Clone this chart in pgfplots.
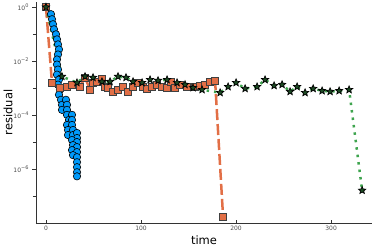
\documentclass[border=0pt]{standalone}
\usepackage{fontspec}
\setmainfont{DejaVu Sans}
\usepackage{pgfplots}
\pgfplotsset{compat=1.18}
\definecolor{jblue}{RGB}{0,154,250}
\definecolor{jorange}{RGB}{226,111,70}
\definecolor{jgreen}{RGB}{62,164,78}
\pgfdeclareplotmark{fstar}{%
  \pgfpathmoveto{\pgfpointpolar{90}{\pgfplotmarksize}}%
  \pgfpathlineto{\pgfpointpolar{126}{0.45\pgfplotmarksize}}%
  \pgfpathlineto{\pgfpointpolar{162}{\pgfplotmarksize}}%
  \pgfpathlineto{\pgfpointpolar{198}{0.45\pgfplotmarksize}}%
  \pgfpathlineto{\pgfpointpolar{234}{\pgfplotmarksize}}%
  \pgfpathlineto{\pgfpointpolar{270}{0.45\pgfplotmarksize}}%
  \pgfpathlineto{\pgfpointpolar{306}{\pgfplotmarksize}}%
  \pgfpathlineto{\pgfpointpolar{342}{0.45\pgfplotmarksize}}%
  \pgfpathlineto{\pgfpointpolar{18}{\pgfplotmarksize}}%
  \pgfpathlineto{\pgfpointpolar{54}{0.45\pgfplotmarksize}}%
  \pgfpathclose
  \pgfusepathqfillstroke
}
\begin{document}
\begin{tikzpicture}
\useasboundingbox (-36pt,-26pt) rectangle (338pt,223pt);
\begin{axis}[
  at={(0pt,0pt)}, anchor=south west,
  scale only axis, width=336pt, height=221pt,
  xmin=-10.5, xmax=343,
  ymode=log, ymin=1e-8, ymax=1.55,
  axis x line*=bottom, axis y line*=left,
  axis line style={black!80, line width=0.6pt},
  xtick={0,100,200,300}, xticklabels={0,100,200,300},
  ytick={1,1e-2,1e-4,1e-6},
  yticklabels={10\textsuperscript{0},10\textsuperscript{−2},10\textsuperscript{−4},10\textsuperscript{−6}},
  minor ytick={1e-1,1e-3,1e-5,1e-7},
  xtick align=inside, ytick align=outside,
  major tick length=3.5pt, minor tick length=3pt,
  tick style={black!80, line width=0.5pt},
  tick label style={font=\fontsize{6}{7}\selectfont, text=black!70},
  xlabel={time}, ylabel={residual},
  label style={font=\fontsize{11.5}{13}\selectfont},
  xlabel style={at={(axis description cs:0.5,-0.077)}, anchor=center},
  ylabel style={at={(axis description cs:-0.083,0.5)}, anchor=center},
  clip=false,
]
\addplot[jblue, line width=1.5pt, mark=*, mark size=3.7pt,
  mark options={fill=jblue, draw=black, line width=0.6pt}] coordinates {
(0,1) (5.26,5.48e-1) (6.32,3.56e-1) (7.37,2.32e-1) (8.42,1.51e-1)
(10.53,9.84e-2) (11.58,6.40e-2) (12.63,4.16e-2) (13.68,2.71e-2)
(12.63,1.76e-2) (11.58,1.15e-2) (11.58,7.46e-3) (12.63,4.86e-3)
(11.58,3.16e-3) (13.68,2.06e-3) (12.63,1.34e-3) (14.74,8.71e-4)
(13.68,5.68e-4) (15.79,3.69e-4) (16.84,2.40e-4) (16.84,1.56e-4)
(21.05,3.69e-4) (22.11,2.40e-4) (22.11,1.56e-4) (22.11,1.02e-4)
(27.37,1.02e-4) (24.21,6.62e-5) (27.37,6.62e-5) (22.11,4.31e-5)
(27.37,4.31e-5) (23.16,2.81e-5) (28.42,2.81e-5) (23.16,1.82e-5)
(28.42,1.82e-5) (32.63,2.17e-5) (32.63,1.41e-5) (27.37,1.19e-5)
(32.63,1.00e-5) (28.42,7.73e-6) (32.63,6.50e-6) (27.37,5.02e-6)
(32.63,4.24e-6) (28.42,3.27e-6) (32.63,2.75e-6) (32.63,1.79e-6)
(32.63,1.17e-6) (32.63,7.60e-7) (32.63,5.38e-7)
};
\addplot[jorange, line width=2.5pt, dash pattern=on 11pt off 4pt, mark=square*, mark size=3.5pt,
  mark options={solid, fill=jorange, draw=black!75, line width=0.7pt}] coordinates {
(0,1) (6.3,1.585e-3) (14.7,1.023e-3) (22.1,1.122e-3) (27.4,1.349e-3)
(35.8,1.122e-3) (41.1,2.455e-3) (46.3,8.71e-4) (49.5,1.585e-3)
(53.7,1.738e-3) (58.9,2.239e-3) (62.1,1.122e-3) (65.3,1.023e-3)
(70.5,7.41e-4) (75.8,8.71e-4) (81.1,1.122e-3) (86.3,7.41e-4)
(91.6,1.122e-3) (96.8,1.585e-3) (102.1,1.122e-3) (106.3,9.55e-4)
(111.6,1.122e-3) (116.8,1.349e-3) (122.1,1.122e-3) (127.4,1.023e-3)
(131.6,1.738e-3) (135.8,1.023e-3) (141.1,1.349e-3) (148.4,1.122e-3)
(156.8,1.122e-3) (162.1,1.230e-3) (167.4,1.349e-3) (172.6,1.738e-3)
(177.9,1.905e-3) (186.3,1.74e-8)
};
\addplot[jgreen, line width=2.5pt, dash pattern=on 2.5pt off 5pt, mark=fstar, mark size=3.8pt,
  mark options={solid, fill=jgreen!45!black, draw=black, line width=0.7pt}] coordinates {
(0,1) (16.8,2.69e-3) (32.6,1.585e-3) (41.1,2.69e-3) (49.5,2.455e-3)
(58.9,1.738e-3) (67.4,1.738e-3) (75.8,2.69e-3) (84.2,2.455e-3)
(91.6,1.738e-3) (101.1,1.585e-3) (109.5,2.042e-3) (117.9,1.905e-3)
(127.4,2.042e-3) (137.9,1.585e-3) (146.3,1.349e-3) (154.7,1.023e-3)
(164.2,8.71e-4) (183.2,6.76e-4) (191.6,1.122e-3) (200.0,1.585e-3)
(209.5,9.55e-4) (222.1,1.122e-3) (230.5,2.042e-3) (240.0,1.230e-3)
(248.4,1.349e-3) (256.8,7.41e-4) (264.2,1.122e-3) (272.6,6.76e-4)
(281.1,9.55e-4) (290.5,7.94e-4) (298.9,7.41e-4) (308.4,7.94e-4)
(318.9,8.71e-4) (332.6,1.62e-7)
};
\end{axis}
\end{tikzpicture}
\end{document}
